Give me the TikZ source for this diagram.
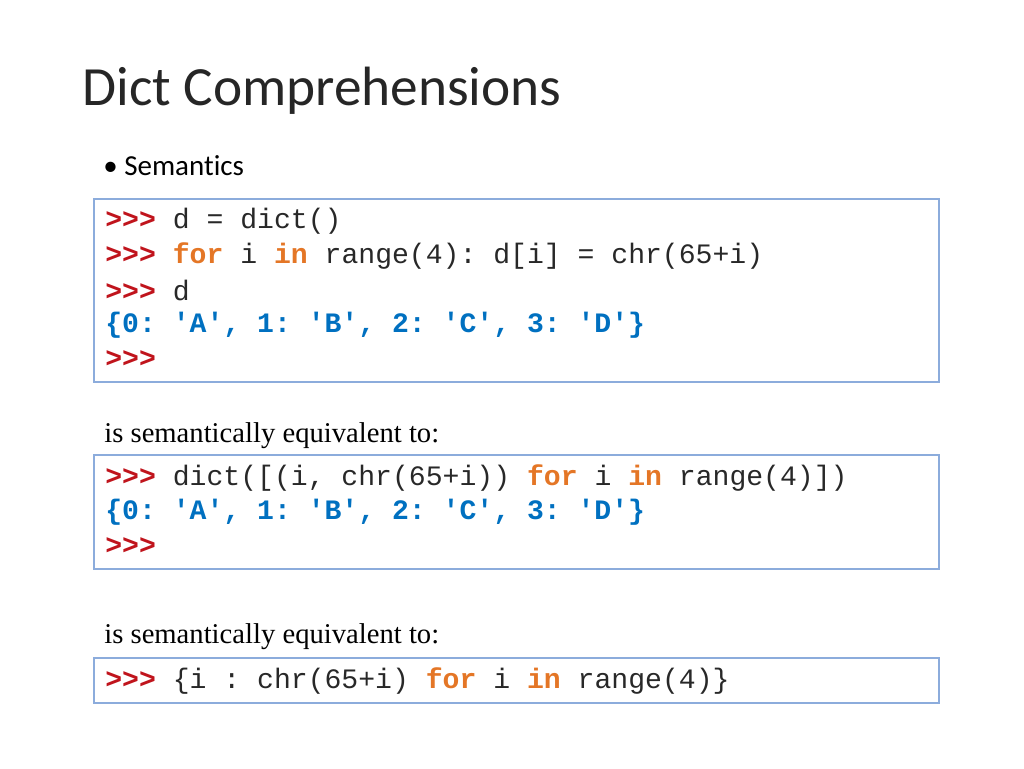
\documentclass[tikz,border=0pt]{standalone}
\usepackage{fontspec}
\setmainfont{Liberation Serif}
\setmonofont{Liberation Mono}
\newfontfamily\slidefont[Ligatures=NoCommon]{Carlito}
\usetikzlibrary{positioning}
\definecolor{promptred}{RGB}{192,20,28}
\definecolor{kworange}{RGB}{228,118,38}
\definecolor{outblue}{RGB}{0,112,192}
\definecolor{boxline}{RGB}{140,172,220}
\definecolor{codegray}{RGB}{40,40,40}
\newcommand{\pr}{\textcolor{promptred}{\textbf{>>>}}}
\newcommand{\kw}[1]{\textcolor{kworange}{\textbf{#1}}}
\newcommand{\res}[1]{\textcolor{outblue}{\textbf{#1}}}
\tikzset{%
  % Specifications for style of nodes:
      codebox/.style = {draw=boxline, line width=0.8pt},
     codeline/.style = {anchor=west, inner sep=0pt, text=codegray,
                        font=\ttfamily\fontsize{16}{16}\selectfont},
        prose/.style = {anchor=west, inner sep=0pt, font=\fontsize{16.3}{16}\selectfont},
}
\begin{document}
\begin{tikzpicture}[x=0.02cm, y=-0.02cm]
  \useasboundingbox (0,0) rectangle (1024,768);
  % Title and bullet
  \node (title) [anchor=west, inner sep=0pt, text=black!85, font=\slidefont\fontsize{31.5}{32}\selectfont] at (82,91) {Dict Comprehensions};
  \node (bullet) [anchor=west, inner sep=0pt, font=\slidefont\fontsize{16.5}{17}\selectfont] at (103,166) {\textbullet\ Semantics};

  % First code block
  \draw[codebox] (94,199) rectangle (939,382);
  \node (l1) [codeline] at (105,221) {\pr{} d = dict()};
  \node (l2) [codeline] at (105,256) {\pr{} \kw{for} i \kw{in} range(4): d[i] = chr(65+i)};
  \node (l3) [codeline] at (105,290) {\pr{} d};
  \node (l4) [codeline] at (105,325) {\res{\{0: 'A', 1: 'B', 2: 'C', 3: 'D'\}}};
  \node (l5) [codeline] at (105,359) {\pr};

  % Second code block
  \node (eq1) [prose] at (104,436) {is semantically equivalent to:};
  \draw[codebox] (94,455) rectangle (939,569);
  \node (m1) [codeline] at (105,478) {\pr{} dict([(i, chr(65+i)) \kw{for} i \kw{in} range(4)])};
  \node (m2) [codeline] at (105,512) {\res{\{0: 'A', 1: 'B', 2: 'C', 3: 'D'\}}};
  \node (m3) [codeline] at (105,546) {\pr};

  % Third code block
  \node (eq2) [prose] at (104,637) {is semantically equivalent to:};
  \draw[codebox] (94,658) rectangle (939,703);
  \node (n1) [codeline] at (105,681) {\pr{} \{i : chr(65+i) \kw{for} i \kw{in} range(4)\}};
\end{tikzpicture}
\end{document}
